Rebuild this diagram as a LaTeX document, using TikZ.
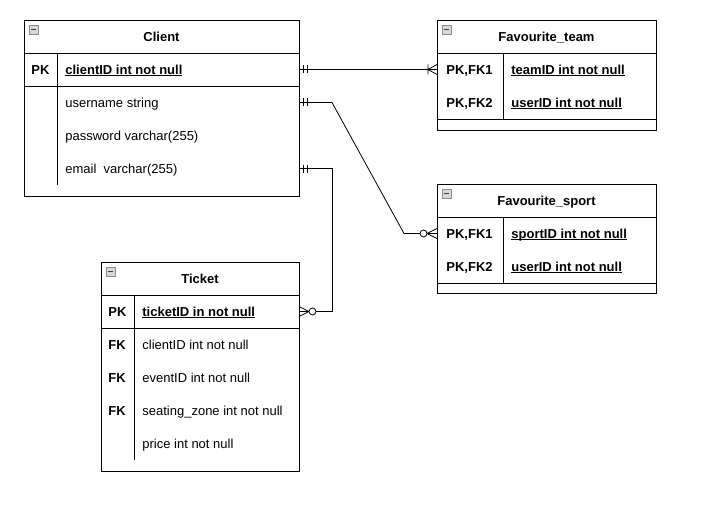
\documentclass[tikz,border=0pt]{standalone}
\usepackage{fontspec}
\setmainfont{Liberation Sans}
\usetikzlibrary{positioning}
\definecolor{iconfill}{HTML}{D4D7DE}
\definecolor{iconline}{HTML}{8C8C8C}
\newcommand{\keyfield}[1]{\textbf{\underline{\smash{#1}}}}
\tikzset{
entity/.style={
  draw, 
  rectangle, 
  inner sep=0pt, outer sep=0pt, anchor=north west
  }, 
headbox/.style={draw, rectangle, inner sep=0pt, outer sep=0pt, anchor=north west, minimum height=33pt, text height=9.3pt, text depth=0pt, font={\fontsize{13}{15}\selectfont\bfseries}},
rowbox/.style={rectangle, inner sep=0pt, outer sep=0pt, minimum height=33pt},
keytext/.style={inner sep=0pt, text height=9.3pt, text depth=0pt, font={\fontsize{13}{15}\selectfont\bfseries}},
fieldtext/.style={inner sep=0pt, text height=9.3pt, text depth=0pt},
mandone/.pic={\draw (4,-4) -- (4,4) (8,-4) -- (8,4);},
onemany/.pic={\draw (9,-5) -- (9,5) (0,-5) -- (9,0) -- (0,5);},
zeromany/.pic={\draw (0,-5) -- (10,0) -- (0,5); \draw[fill=white] (13.5,0) circle (3.5);},
collapse/.pic={\draw[iconline, fill=iconfill, line width=0.5pt] (0,0) rectangle (9,9); \draw[darkgray, line width=1pt] (2,4.5) -- (7,4.5);}
}
\begin{document}
\begin{tikzpicture}[x=1pt, y=-1pt, line width=0.8pt, font=\fontsize{13}{15}\selectfont]
\useasboundingbox (0,0) rectangle (706,508);
% Client
\node[entity, minimum width=275pt, minimum height=176pt] (client) at (24,20) {};
\node[headbox, minimum width=275pt] (clienthd) at (client.north west) {Client};
\node[rowbox, draw, minimum width=275pt, below=0pt of clienthd] (clientpk) {};
\node[rowbox, minimum width=275pt, below=0pt of clientpk] (clientun) {};
\node[rowbox, minimum width=275pt, below=0pt of clientun] (clientpw) {};
\node[rowbox, minimum width=275pt, below=0pt of clientpw] (clientem) {};
\draw ([xshift=33pt]clientpk.north west) -- ([xshift=33pt]clientem.south west);
\node[keytext, right=7pt of clientpk.west] {PK};
\node[fieldtext, right=41pt of clientpk.west] {\keyfield{clientID int not null}};
\node[fieldtext, right=41pt of clientun.west] {username string};
\node[fieldtext, right=41pt of clientpw.west] {password varchar(255)};
\node[fieldtext, right=41pt of clientem.west] {email~ varchar(255)};
\pic at (client.north west) [shift={(5,5)}] {collapse};
% Favourite_team
\node[entity, minimum width=219pt, minimum height=110pt] (team) at (437,20) {};
\node[headbox, minimum width=219pt] (teamhd) at (team.north west) {Favourite\_team};
\node[rowbox, minimum width=219pt, below=0pt of teamhd] (teampk1) {};
\node[rowbox, minimum width=219pt, below=0pt of teampk1] (teampk2) {};
\draw (teampk2.south west) -- (teampk2.south east);
\draw ([xshift=66pt]teampk1.north west) -- ([xshift=66pt]teampk2.south west);
\node[keytext, right=9pt of teampk1.west] {PK,FK1};
\node[keytext, right=9pt of teampk2.west] {PK,FK2};
\node[fieldtext, right=74pt of teampk1.west] {\keyfield{teamID int not null}};
\node[fieldtext, right=74pt of teampk2.west] {\keyfield{userID int not null}};
\pic at (team.north west) [shift={(5,5)}] {collapse};
% Favourite_sport
\node[entity, minimum width=219pt, minimum height=109pt] (sport) at (437,184) {};
\node[headbox, minimum width=219pt] (sporthd) at (sport.north west) {Favourite\_sport};
\node[rowbox, minimum width=219pt, below=0pt of sporthd] (sportpk1) {};
\node[rowbox, minimum width=219pt, below=0pt of sportpk1] (sportpk2) {};
\draw (sportpk2.south west) -- (sportpk2.south east);
\draw ([xshift=66pt]sportpk1.north west) -- ([xshift=66pt]sportpk2.south west);
\node[keytext, right=9pt of sportpk1.west] {PK,FK1};
\node[keytext, right=9pt of sportpk2.west] {PK,FK2};
\node[fieldtext, right=74pt of sportpk1.west] {\keyfield{sportID int not null}};
\node[fieldtext, right=74pt of sportpk2.west] {\keyfield{userID int not null}};
\pic at (sport.north west) [shift={(5,5)}] {collapse};
% Ticket
\node[entity, minimum width=198pt, minimum height=209pt] (ticket) at (101,262) {};
\node[headbox, minimum width=198pt] (tickethd) at (ticket.north west) {Ticket};
\node[rowbox, draw, minimum width=198pt, below=0pt of tickethd] (ticketpk) {};
\node[rowbox, minimum width=198pt, below=0pt of ticketpk] (ticketcl) {};
\node[rowbox, minimum width=198pt, below=0pt of ticketcl] (ticketev) {};
\node[rowbox, minimum width=198pt, below=0pt of ticketev] (ticketsz) {};
\node[rowbox, minimum width=198pt, below=0pt of ticketsz] (ticketpr) {};
\draw ([xshift=33pt]ticketpk.north west) -- ([xshift=33pt]ticketpr.south west);
\node[keytext, right=7pt of ticketpk.west] {PK};
\node[keytext, right=7pt of ticketcl.west] {FK};
\node[keytext, right=7pt of ticketev.west] {FK};
\node[keytext, right=7pt of ticketsz.west] {FK};
\node[fieldtext, right=41pt of ticketpk.west] {\keyfield{ticketID in not null}};
\node[fieldtext, right=41pt of ticketcl.west] {clientID int not null};
\node[fieldtext, right=41pt of ticketev.west] {eventID int not null};
\node[fieldtext, right=41pt of ticketsz.west] {seating\_zone int not null};
\node[fieldtext, right=41pt of ticketpr.west] {price int not null};
\pic at (ticket.north west) [shift={(5,5)}] {collapse};
% relations
\draw (clientpk.east) -- (teampk1.west);
\draw (clientun.east) -- ++(33,0) -- ([xshift=-33pt]sportpk1.west) -- (sportpk1.west);
\draw (clientem.east) -- ++(33,0) |- (ticketpk.east);
\pic at (clientpk.east) {mandone};
\pic at (clientun.east) {mandone};
\pic at (clientem.east) {mandone};
\pic[xscale=-1] at (teampk1.west) {onemany};
\pic[xscale=-1] at (sportpk1.west) {zeromany};
\pic at (ticketpk.east) {zeromany};
\end{tikzpicture}
\end{document}
